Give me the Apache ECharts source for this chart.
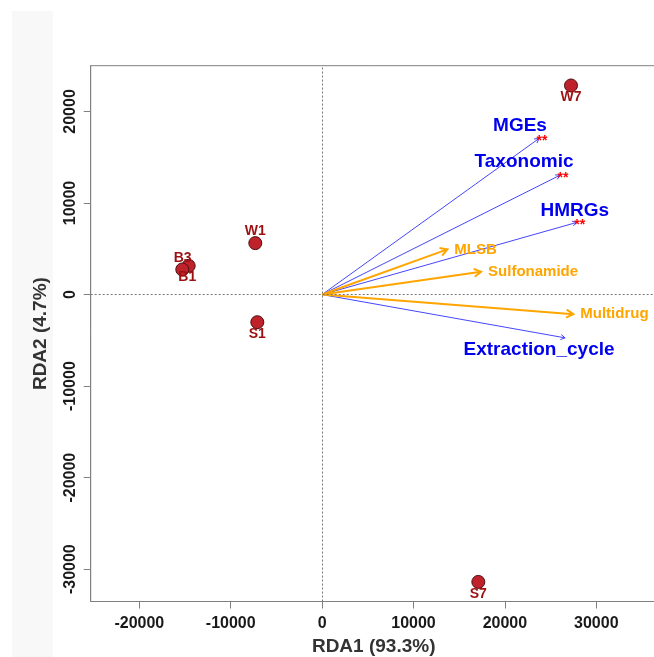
<!DOCTYPE html>
<html>
<head>
<meta charset="utf-8">
<script src="https://cdn.jsdelivr.net/npm/echarts@6/dist/echarts.min.js"></script>
<style>
html,body{margin:0;padding:0;background:#fff;}
#chart{width:654px;height:657px;}
</style>
</head>
<body>
<div id="chart"></div>
<script>
// ---- data ----
const sites = ['W7', 'S7', 'W1', 'S1', 'B3', 'B1'];
const siteRDA1 = [27230, 17090, -7310, -7090, -14600, -15300];
const siteRDA2 = [22840, -31390, 5620, -3020, 3140, 2740];

const envVars = ['MGEs', 'Taxonomic', 'HMRGs', 'Extraction_cycle'];
const envRDA1 = [23730, 26030, 27860, 26580];
const envRDA2 = [17050, 13040, 7880, -4730];
const envSignif = ['**', '**', '**', ''];

const argTypes = ['MLSB', 'Sulfonamide', 'Multidrug'];
const argRDA1 = [13700, 17390, 27480];
const argRDA2 = [4930, 2480, -2140];

const xTicks = [-20000, -10000, 0, 10000, 20000, 30000];
const yTicks = [-30000, -20000, -10000, 0, 10000, 20000];
const xTitle = 'RDA1 (93.3%)';
const yTitle = 'RDA2 (4.7%)';

// ---- styles ----
const FONT = '"Liberation Sans", Arial, Helvetica, sans-serif';
const siteLabelOffset = { W7: [0, 12], S7: [0, 12], W1: [0, -12], S1: [0, 12], B3: [-6, -8], B1: [5, 8] };
const envLabelOffset = { MGEs: [-19, -13], Taxonomic: [-36, -13], HMRGs: [-2, -12], Extraction_cycle: [-26, 12] };
const BLUE = '#4646ff';
const ORANGE = '#ffa500';

function makeArrows(names, signif, color, lineW, headLen, headAng, labelMode) {
  return function (params, api) {
    const i = api.value(2);
    const o = api.coord([0, 0]);
    const t = api.coord([api.value(0), api.value(1)]);
    const ang = Math.atan2(t[1] - o[1], t[0] - o[0]);
    const h1 = [t[0] - headLen * Math.cos(ang - headAng), t[1] - headLen * Math.sin(ang - headAng)];
    const h2 = [t[0] - headLen * Math.cos(ang + headAng), t[1] - headLen * Math.sin(ang + headAng)];
    const children = [
      { type: 'line', shape: { x1: o[0], y1: o[1], x2: t[0], y2: t[1] }, style: { stroke: color, lineWidth: lineW } },
      { type: 'polyline', shape: { points: [h1, t, h2] }, style: { stroke: color, lineWidth: lineW, fill: null } }
    ];
    const name = names[i];
    if (labelMode === 'env') {
      const off = envLabelOffset[name];
      children.push({ type: 'text', x: t[0] + off[0], y: t[1] + off[1],
        style: { text: name, fill: '#0000ee', font: 'bold 19px ' + FONT, align: 'center', verticalAlign: 'middle' } });
      if (signif[i]) {
        children.push({ type: 'text', x: t[0] + 3, y: t[1] + 3,
          style: { text: signif[i], fill: '#ff0000', font: 'bold 14px ' + FONT, align: 'center', verticalAlign: 'middle' } });
      }
    } else {
      children.push({ type: 'text', x: t[0] + 7, y: t[1],
        style: { text: name, fill: ORANGE, font: 'bold 15px ' + FONT, align: 'left', verticalAlign: 'middle' } });
    }
    return { type: 'group', children: children };
  };
}

const chart = echarts.init(document.getElementById('chart'), null, { renderer: 'canvas' });
const option = {
  backgroundColor: '#ffffff',
  animation: false,
  graphic: [{ type: 'rect', left: 12, top: 11, z: -100, shape: { width: 41, height: 646 }, style: { fill: '#f8f8f8' } }],
  grid: { left: 90.7, top: 65.7, width: 566, height: 535.8, outerBoundsMode: 'none', containLabel: false, show: true, borderColor: '#808080', borderWidth: 1, backgroundColor: 'transparent' },
  xAxis: {
    type: 'value', min: -25320, max: 36606,
    name: xTitle, nameLocation: 'middle', nameGap: 36,
    nameTextStyle: { fontFamily: FONT, fontWeight: 'bold', fontSize: 19, color: '#333' },
    axisLine: { show: true, onZero: false, lineStyle: { color: '#808080', width: 1 } },
    axisTick: { show: true, length: 7, customValues: xTicks, lineStyle: { color: '#808080' } },
    axisLabel: { customValues: xTicks, formatter: v => String(v), margin: 14, fontFamily: FONT, fontWeight: 'bold', fontSize: 16, color: '#1a1a1a' },
    splitLine: { show: false }
  },
  yAxis: {
    type: 'value', min: -33530, max: 25000,
    name: yTitle, nameLocation: 'middle', nameGap: 40, nameRotate: 90,
    nameTextStyle: { fontFamily: FONT, fontWeight: 'bold', fontSize: 19, color: '#333' },
    axisLine: { show: true, onZero: false, lineStyle: { color: '#808080', width: 1 } },
    axisTick: { show: true, length: 7, customValues: yTicks, lineStyle: { color: '#808080' } },
    axisLabel: { customValues: yTicks, formatter: v => String(v), rotate: 90, margin: 12, fontFamily: FONT, fontWeight: 'bold', fontSize: 16, color: '#1a1a1a' },
    splitLine: { show: false }
  },
  series: [
    {
      type: 'scatter', data: [], silent: true,
      markLine: {
        silent: true, symbol: 'none', label: { show: false },
        lineStyle: { type: [2, 2], color: '#777', width: 1 },
        data: [{ xAxis: 0 }, { yAxis: 0 }]
      }
    },
    {
      type: 'custom', clip: false, silent: true,
      renderItem: makeArrows(envVars, envSignif, BLUE, 1, 5, Math.PI / 6, 'env'),
      data: envVars.map((n, i) => [envRDA1[i], envRDA2[i], i])
    },
    {
      type: 'custom', clip: false, silent: true,
      renderItem: makeArrows(argTypes, [], ORANGE, 2, 8, Math.PI / 6, 'arg'),
      data: argTypes.map((n, i) => [argRDA1[i], argRDA2[i], i])
    },
    {
      type: 'scatter', silent: true, symbol: 'circle', symbolSize: 13,
      itemStyle: { color: '#c0222b', borderColor: '#4a1010', borderWidth: 1, opacity: 1 },
      label: { show: true, position: 'inside', formatter: p => p.name, fontFamily: FONT, fontWeight: 'bold', fontSize: 14, color: '#9b1111' },
      data: sites.map((s, i) => ({ name: s, value: [siteRDA1[i], siteRDA2[i]], label: { offset: siteLabelOffset[s] } }))
    }
  ]
};
chart.setOption(option);
</script>
</body>
</html>
